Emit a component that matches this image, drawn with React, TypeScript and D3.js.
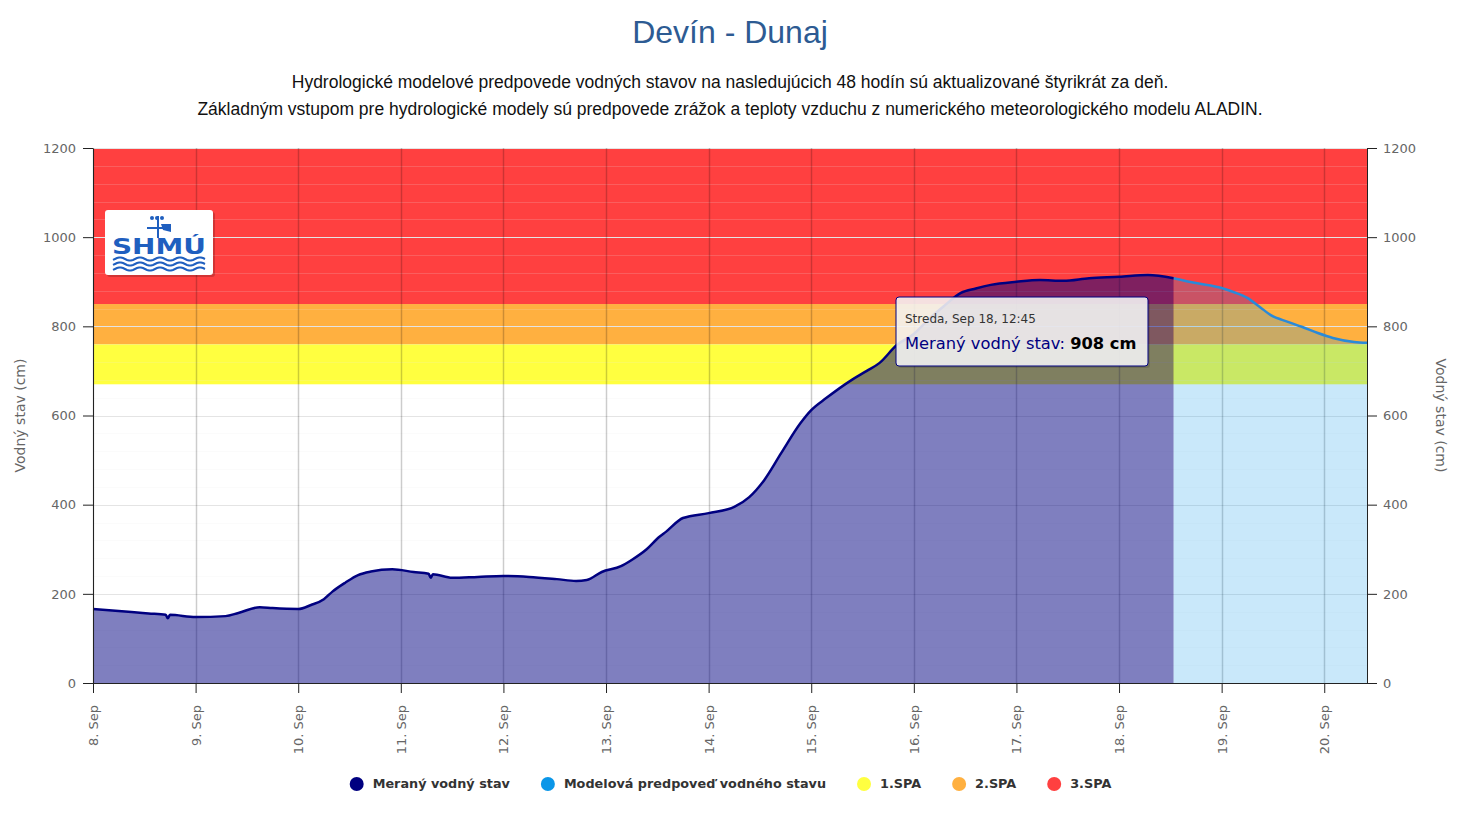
import React, { useEffect, useRef } from 'react';
import * as d3 from 'd3';

const obsTimes = [
  '2024-09-08T00:00', '2024-09-08T09:00', '2024-09-08T13:00', '2024-09-08T17:00', '2024-09-08T17:30',
  '2024-09-08T18:00', '2024-09-09T00:00', '2024-09-09T07:00', '2024-09-09T10:00', '2024-09-09T15:00',
  '2024-09-09T18:00', '2024-09-10T00:00', '2024-09-10T03:00', '2024-09-10T06:00', '2024-09-10T08:00',
  '2024-09-10T11:00', '2024-09-10T14:00', '2024-09-10T17:00', '2024-09-10T22:00', '2024-09-11T03:00',
  '2024-09-11T06:30', '2024-09-11T07:00', '2024-09-11T07:30', '2024-09-11T12:00', '2024-09-11T18:00',
  '2024-09-12T00:00', '2024-09-12T06:00', '2024-09-12T12:30', '2024-09-12T17:00', '2024-09-12T19:30',
  '2024-09-12T23:00', '2024-09-13T03:30', '2024-09-13T06:00', '2024-09-13T09:30', '2024-09-13T12:30',
  '2024-09-13T14:00', '2024-09-13T18:00', '2024-09-14T00:00', '2024-09-14T06:00', '2024-09-14T09:30',
  '2024-09-14T13:00', '2024-09-14T17:00', '2024-09-14T21:30', '2024-09-15T00:00', '2024-09-15T03:30',
  '2024-09-15T09:30', '2024-09-15T13:00', '2024-09-15T16:00', '2024-09-15T20:00', '2024-09-16T00:00',
  '2024-09-16T03:30', '2024-09-16T07:00', '2024-09-16T11:00', '2024-09-16T14:30', '2024-09-16T18:00',
  '2024-09-17T00:00', '2024-09-17T05:30', '2024-09-17T11:00', '2024-09-17T17:00', '2024-09-18T00:00',
  '2024-09-18T06:45', '2024-09-18T12:45',
];
const obsLevels = [
  166, 159, 156, 153, 145,
  153, 148, 150, 157, 170,
  168, 166, 175, 188, 205,
  225, 242, 250, 255, 249,
  245, 236, 244, 236, 238,
  240, 238, 233, 229, 231,
  249, 262, 276, 300, 328,
  339, 370, 381, 395, 417,
  455, 516, 583, 612, 639,
  680, 700, 718, 758, 783,
  816, 845, 875, 885, 893,
  900, 904, 902, 908, 911,
  915, 908,
];

// model forecast (cm)
const fcTimes = [
  '2024-09-18T12:45', '2024-09-18T18:00', '2024-09-19T00:00', '2024-09-19T02:45', '2024-09-19T06:00',
  '2024-09-19T09:00', '2024-09-19T11:30', '2024-09-19T15:30', '2024-09-19T18:45', '2024-09-19T22:30',
  '2024-09-20T02:00', '2024-09-20T07:00', '2024-09-20T10:00',
];
const fcLevels = [908, 897, 886, 877, 864, 843, 825, 810, 799, 785, 774, 765, 763];

const xStart = '2024-09-08T00:00';
const xEnd = '2024-09-20T10:00';
const dayTicks = [
  '2024-09-08', '2024-09-09', '2024-09-10', '2024-09-11', '2024-09-12', '2024-09-13', '2024-09-14',
  '2024-09-15', '2024-09-16', '2024-09-17', '2024-09-18', '2024-09-19', '2024-09-20',
];
const levelTicks = [0, 200, 400, 600, 800, 1000, 1200];
const minorTicks = d3.range(0, 1201, 40);

// flood alert levels (stupne povodňovej aktivity)
const bandNames = ['1.SPA', '2.SPA', '3.SPA'];
const bandFrom = [670, 760, 850];
const bandTo = [760, 850, 1200];
const bandColors = ['#ffff40', '#ffb040', '#ff4040'];

const seriesNames = ['Meraný vodný stav', 'Modelová predpoveď vodného stavu'];
const seriesColors = ['#000080', '#0a96e8'];

const title = 'Devín - Dunaj';
const subtitle = [
  'Hydrologické modelové predpovede vodných stavov na nasledujúcich 48 hodín sú aktualizované štyrikrát za deň.',
  'Základným vstupom pre hydrologické modely sú predpovede zrážok a teploty vzduchu z numerického meteorologického modelu ALADIN.',
];
const tooltipDate = 'Streda, Sep 18, 12:45';

const W = 1467;
const H = 813;
const FONT = '"DejaVu Sans", Verdana, sans-serif';
const ARIAL = '"Liberation Sans", Arial, sans-serif';

const App = () => {
  const svgRef = useRef<SVGSVGElement>(null);

  useEffect(() => {
    const svg = d3.select(svgRef.current);
    svg.selectAll('*').remove();

    const left = 93, right = 1367, top = 148, bottom = 683;
    const parse = (s: string) => new Date(s);

    const x = d3.scaleTime().domain([parse(xStart), parse(xEnd)]).range([left, right]);
    const y = d3.scaleLinear().domain([0, 1200]).range([bottom, top]);

    const obs = obsTimes.map((t, i) => ({ t: parse(t), v: obsLevels[i] }));
    const fc = fcTimes.map((t, i) => ({ t: parse(t), v: fcLevels[i] }));

    // titles
    svg.append('text')
      .attr('x', 730).attr('y', 43)
      .attr('text-anchor', 'middle')
      .style('font-family', ARIAL)
      .style('font-size', '32px')
      .style('fill', '#2d5b93')
      .text(title);

    subtitle.forEach((line, i) => {
      svg.append('text')
        .attr('x', 730).attr('y', 88 + i * 27)
        .attr('text-anchor', 'middle')
        .style('font-family', ARIAL)
        .style('font-size', '17.5px')
        .style('fill', '#111')
        .text(line);
    });

    // plot bands
    svg.append('g').selectAll('rect')
      .data(bandNames)
      .enter()
      .append('rect')
      .attr('x', left)
      .attr('width', right - left)
      .attr('y', (d, i) => y(bandTo[i]))
      .attr('height', (d, i) => y(bandFrom[i]) - y(bandTo[i]))
      .attr('fill', (d, i) => bandColors[i]);

    // grid
    const grid = svg.append('g');
    grid.selectAll('.minor')
      .data(minorTicks.filter((v) => v % 200 !== 0))
      .enter()
      .append('line')
      .attr('x1', left).attr('x2', right)
      .attr('y1', (d) => Math.round(y(d)) + 0.5)
      .attr('y2', (d) => Math.round(y(d)) + 0.5)
      .attr('stroke', '#e8e8e8')
      .attr('stroke-opacity', 0.18);

    grid.selectAll('.major')
      .data(levelTicks)
      .enter()
      .append('line')
      .attr('x1', left).attr('x2', right)
      .attr('y1', (d) => Math.round(y(d)) + 0.5)
      .attr('y2', (d) => Math.round(y(d)) + 0.5)
      .attr('stroke', '#e4e4e4');

    grid.selectAll('.vert')
      .data(dayTicks)
      .enter()
      .append('line')
      .attr('y1', top).attr('y2', bottom)
      .attr('x1', (d) => Math.round(x(parse(d + 'T00:00'))) + 0.5)
      .attr('x2', (d) => Math.round(x(parse(d + 'T00:00'))) + 0.5)
      .attr('stroke', '#000')
      .attr('stroke-opacity', 0.2)
      .attr('stroke-width', 1.5);

    // forecast series
    const area = d3.area<{ t: Date; v: number }>()
      .x((d) => x(d.t))
      .y0(y(0))
      .y1((d) => y(d.v))
      .curve(d3.curveMonotoneX);
    const line = d3.line<{ t: Date; v: number }>()
      .x((d) => x(d.t))
      .y((d) => y(d.v))
      .curve(d3.curveMonotoneX);

    svg.append('path').datum(fc)
      .attr('d', area)
      .attr('fill', seriesColors[1])
      .attr('fill-opacity', 0.22);
    svg.append('path').datum(fc)
      .attr('d', line)
      .attr('fill', 'none')
      .attr('stroke', '#2a8ad8')
      .attr('stroke-width', 2.5);

    // measured series
    svg.append('path').datum(obs)
      .attr('d', area)
      .attr('fill', seriesColors[0])
      .attr('fill-opacity', 0.5);
    svg.append('path').datum(obs)
      .attr('d', line)
      .attr('fill', 'none')
      .attr('stroke', seriesColors[0])
      .attr('stroke-width', 2.5);

    // axes
    const styleAxis = (g: any) => {
      g.selectAll('text')
        .style('font-family', FONT)
        .style('font-size', '13px')
        .style('fill', '#666');
      g.selectAll('line').attr('stroke', '#222');
      g.select('.domain').attr('stroke', '#222');
    };

    const yLeft = svg.append('g')
      .attr('transform', `translate(${left},0)`)
      .call(d3.axisLeft(y).tickValues(levelTicks).tickSize(10).tickPadding(7).tickSizeOuter(0).tickFormat(d3.format('d')));
    styleAxis(yLeft);

    const yRight = svg.append('g')
      .attr('transform', `translate(${right},0)`)
      .call(d3.axisRight(y).tickValues(levelTicks).tickSize(10).tickPadding(6).tickSizeOuter(0).tickFormat(d3.format('d')));
    styleAxis(yRight);

    const xAxis = svg.append('g')
      .attr('transform', `translate(0,${bottom})`)
      .call(
        d3.axisBottom(x)
          .tickValues(dayTicks.map((d) => parse(d + 'T00:00')))
          .tickSize(10)
          .tickSizeOuter(0)
          .tickFormat((d: any) => `${d.getDate()}. Sep`)
      );
    styleAxis(xAxis);
    xAxis.selectAll('text')
      .attr('transform', 'rotate(-90)')
      .attr('text-anchor', 'end')
      .attr('x', -22)
      .attr('y', 0)
      .attr('dy', '0.35em');

    // axis titles
    svg.append('text')
      .attr('transform', `translate(25,${(top + bottom) / 2}) rotate(-90)`)
      .attr('text-anchor', 'middle')
      .style('font-family', FONT)
      .style('font-size', '14px')
      .style('fill', '#666')
      .text('Vodný stav (cm)');
    svg.append('text')
      .attr('transform', `translate(1436,${(top + bottom) / 2}) rotate(90)`)
      .attr('text-anchor', 'middle')
      .style('font-family', FONT)
      .style('font-size', '14px')
      .style('fill', '#666')
      .text('Vodný stav (cm)');

    // SHMÚ logo
    const logo = svg.append('g').attr('transform', 'translate(105,210)');
    logo.append('rect').attr('x', 2).attr('y', 2).attr('width', 108).attr('height', 65)
      .attr('rx', 3).attr('fill', 'rgba(0,0,0,0.18)');
    logo.append('rect').attr('width', 108).attr('height', 65).attr('rx', 3).attr('fill', '#fff');
    const blue = '#1f5fbf';
    logo.append('line').attr('x1', 53).attr('x2', 53).attr('y1', 6).attr('y2', 28)
      .attr('stroke', blue).attr('stroke-width', 2);
    logo.append('line').attr('x1', 42).attr('x2', 64).attr('y1', 18).attr('y2', 18)
      .attr('stroke', blue).attr('stroke-width', 2);
    logo.append('path').attr('d', 'M56,14 L66,14 L66,22 L58,20 Z').attr('fill', blue);
    [47, 52, 57].forEach((cx) => {
      logo.append('circle').attr('cx', cx).attr('cy', 8).attr('r', 2).attr('fill', blue);
    });
    logo.append('text')
      .attr('x', 7).attr('y', 44)
      .attr('textLength', 94)
      .attr('lengthAdjust', 'spacingAndGlyphs')
      .style('font-family', FONT)
      .style('font-weight', 'bold')
      .style('font-size', '22px')
      .style('fill', blue)
      .text('SHMÚ');
    [49, 54, 59].forEach((wy) => {
      const pts: [number, number][] = d3.range(8, 101, 2).map((wx) => [wx, wy + 1.6 * Math.sin((wx / 10) * Math.PI)]);
      logo.append('path')
        .attr('d', d3.line()(pts))
        .attr('fill', 'none')
        .attr('stroke', blue)
        .attr('stroke-width', 2);
    });

    // legend
    const legendItems = [
      { name: seriesNames[0], color: seriesColors[0] },
      { name: seriesNames[1], color: seriesColors[1] },
      ...bandNames.map((n, i) => ({ name: n, color: bandColors[i] })),
    ];
    const legend = svg.append('g');
    const items = legend.selectAll('g')
      .data(legendItems)
      .enter()
      .append('g');
    items.append('circle').attr('cx', 8).attr('cy', 0).attr('r', 7).attr('fill', (d) => d.color);
    items.append('text')
      .attr('x', 24).attr('dy', '0.35em')
      .style('font-family', FONT)
      .style('font-size', '12.8px')
      .style('font-weight', 'bold')
      .style('fill', '#333')
      .text((d) => d.name);
    let cursor = 0;
    const offsets: number[] = [];
    items.each(function () {
      const len = (d3.select(this).select('text').node() as SVGTextElement).getComputedTextLength();
      offsets.push(cursor);
      cursor += 24 + len + 30;
    });
    const totalW = cursor - 30;
    const startX = 730 - totalW / 2;
    items.attr('transform', (d, i) => `translate(${startX + offsets[i]},784)`);

    // tooltip
    const tip = svg.append('g').attr('transform', 'translate(896,297)');
    tip.append('rect').attr('x', 2).attr('y', 2).attr('width', 252).attr('height', 69)
      .attr('rx', 3).attr('fill', 'rgba(0,0,0,0.12)');
    tip.append('rect').attr('width', 252).attr('height', 69)
      .attr('rx', 3)
      .attr('fill', 'rgba(247,247,247,0.88)')
      .attr('stroke', seriesColors[0]);
    tip.append('text')
      .attr('x', 9).attr('y', 26)
      .style('font-family', FONT)
      .style('font-size', '12px')
      .style('fill', '#333')
      .text(tooltipDate);
    const t2 = tip.append('text')
      .attr('x', 9).attr('y', 52)
      .style('font-family', FONT)
      .style('font-size', '16.3px');
    t2.append('tspan').style('fill', seriesColors[0]).text(`${seriesNames[0]}: `);
    t2.append('tspan').style('fill', '#000').style('font-weight', 'bold')
      .text(`${obsLevels[obsLevels.length - 1]} cm`);
  }, []);

  return (
    <svg
      ref={svgRef}
      width={W}
      height={H}
      style={{ position: 'fixed', left: 0, top: 0, background: '#fff' }}
    />
  );
};

export default App;
